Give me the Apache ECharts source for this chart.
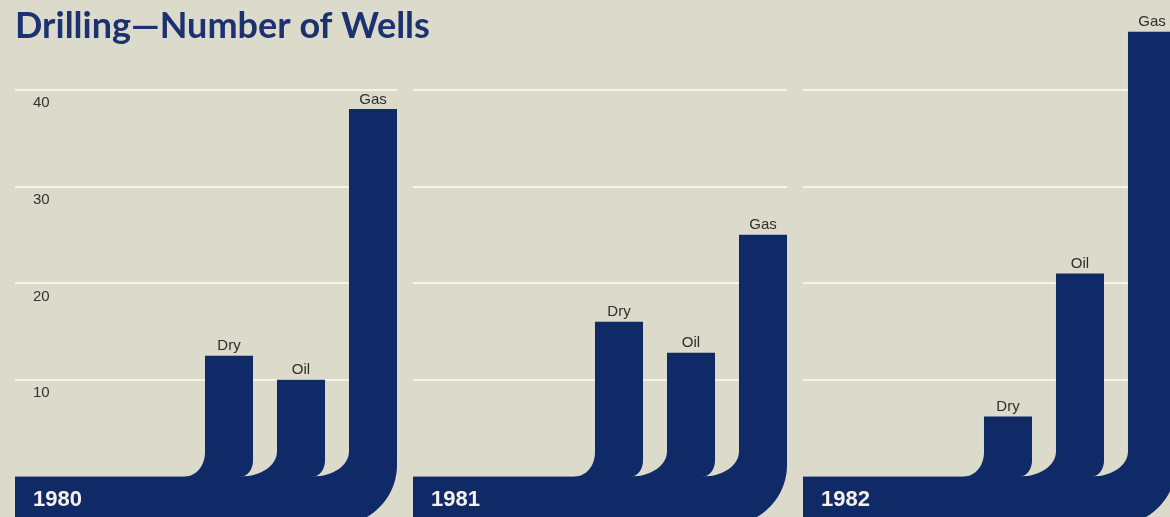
<!DOCTYPE html>
<html><head><meta charset="utf-8">
<script src="https://cdn.jsdelivr.net/npm/echarts@6/dist/echarts.min.js"></script>
<style>html,body{margin:0;padding:0;background:#dcdaca;} #c{width:1170px;height:517px;}</style>
</head><body><div id="c"></div>
<script>
// ---- data ----
const years = ['1980', '1981', '1982'];
const categories = ['Dry', 'Oil', 'Gas'];
const wells1980 = [12.5, 10, 38];
const wells1981 = [16, 12.8, 25];
const wells1982 = [6.2, 21, 46];
const yTicks = [10, 20, 30, 40];
const yMax = 50;
const titleText = 'Drilling\u2014Number of Wells';

// ---- layout / style ----
const NAVY = '#102a68';
const BG = '#dcdaca';
const panelLeft = [15, 413, 803];
const panelRight = [397, 787, 1176];
const zeroY = 476.5;
const pxPerUnit = 9.67;
const bandDepth = 48.5;
const bigR = 60;
const K = 0.5523;
const yearData = [wells1980, wells1981, wells1982];

const gridTop = zeroY - yMax * pxPerUnit;
const gridH = yMax * pxPerUnit;

function bandRender(p) {
  return function (params, api) {
    const r = params.coordSys;
    const y0 = api.coord([0, 0])[1];
    return {
      type: 'group',
      children: [
        { type: 'rect', shape: { x: r.x, y: y0, width: r.width - bigR + 2, height: bandDepth }, style: { fill: NAVY } },
        { type: 'text', style: { text: years[p], x: r.x + 18, y: y0 + 23, fill: '#f4f2ea',
            font: 'bold 22px "Liberation Sans", Arial, sans-serif', align: 'left', verticalAlign: 'middle',
            textAlign: 'left', textVerticalAlign: 'middle' }, z2: 10 }
      ]
    };
  };
}

function barRender(params, api) {
  const i = api.value(0);
  const v = api.value(1);
  const top = api.coord([i, v]);
  const base = api.coord([i, 0]);
  const slot = api.size([1, 0])[0];
  const bw = slot * 0.667;
  const gap = slot - bw;
  const cx = top[0];
  const xL = cx - bw / 2, xR = cx + bw / 2;
  const yT = top[1], yB = base[1];
  const last = i === categories.length - 1;
  const fw = i === 0 ? 20 : gap + 12;
  const fh = i === 0 ? 24 : 25;
  let d = 'M' + (xL - fw) + ' ' + yB +
    ' C' + (xL - fw + K * fw) + ' ' + yB + ' ' + xL + ' ' + (yB - fh + K * fh) + ' ' + xL + ' ' + (yB - fh) +
    ' L' + xL + ' ' + yT + ' L' + xR + ' ' + yT;
  if (!last) {
    const rw = 12, rh = 16;
    d += ' L' + xR + ' ' + (yB - rh) +
      ' C' + xR + ' ' + (yB - rh + K * rh) + ' ' + (xR - rw + K * rw) + ' ' + yB + ' ' + (xR - rw) + ' ' + yB +
      ' L' + (xR - rw) + ' ' + (yB + 5) + ' L' + (xL - fw) + ' ' + (yB + 5) + ' Z';
  } else {
    const yBot = yB + bandDepth;
    d += ' L' + xR + ' ' + (yBot - bigR) +
      ' C' + xR + ' ' + (yBot - bigR + K * bigR) + ' ' + (xR - bigR + K * bigR) + ' ' + yBot + ' ' + (xR - bigR) + ' ' + yBot +
      ' L' + (xL - fw) + ' ' + yBot + ' Z';
  }
  return {
    type: 'group',
    children: [
      { type: 'path', shape: { pathData: d }, style: { fill: NAVY } },
      { type: 'text', style: { text: categories[i], x: cx, y: yT - 2, fill: '#2e2e2e',
          font: '15px "Liberation Sans", Arial, sans-serif', align: 'center', verticalAlign: 'bottom',
          textAlign: 'center', textVerticalAlign: 'bottom' } }
    ]
  };
}

const grid = [], xAxis = [], yAxis = [], series = [];
for (let p = 0; p < 3; p++) {
  grid.push({ left: panelLeft[p], width: panelRight[p] - panelLeft[p], top: gridTop, height: gridH,
    containLabel: false, outerBoundsMode: 'none' });
  grid.push({ left: panelRight[p] - 204, width: 216, top: gridTop, height: gridH,
    containLabel: false, outerBoundsMode: 'none' });
  xAxis.push({ type: 'value', gridIndex: 2 * p, min: 0, max: 1, show: false });
  xAxis.push({ type: 'category', gridIndex: 2 * p + 1, data: categories, show: false, boundaryGap: true });
  yAxis.push({ type: 'value', gridIndex: 2 * p, min: 0, max: yMax, interval: 10,
    axisLine: { show: false }, axisTick: { show: false },
    splitLine: { show: true, lineStyle: { color: '#f6f4e8', width: 2 } },
    axisLabel: { show: p === 0, inside: true, margin: 18, verticalAlign: 'top', padding: [6, 0, 0, 0],
      color: '#333', fontSize: 15, fontFamily: '"Liberation Sans", Arial, sans-serif',
      formatter: v => (yTicks.indexOf(v) >= 0 ? String(v) : '') } });
  yAxis.push({ type: 'value', gridIndex: 2 * p + 1, min: 0, max: yMax, show: false, splitLine: { show: false } });
  series.push({ type: 'custom', xAxisIndex: 2 * p, yAxisIndex: 2 * p, data: [[0, 0]], renderItem: bandRender(p), z: 2, silent: true });
  series.push({ type: 'custom', xAxisIndex: 2 * p + 1, yAxisIndex: 2 * p + 1,
    data: yearData[p].map((v, i) => [i, v]), renderItem: barRender, z: 3, silent: true });
}

const chart = echarts.init(document.getElementById('c'), null, { renderer: 'canvas' });
chart.setOption({
  backgroundColor: BG,
  animation: false,
  title: { text: titleText, left: 10, top: 3,
    textStyle: { color: '#1b3170', fontSize: 36, fontWeight: 'bold', fontFamily: 'Lato, "Open Sans", sans-serif' } },
  grid, xAxis, yAxis, series
});
</script>
</body></html>
